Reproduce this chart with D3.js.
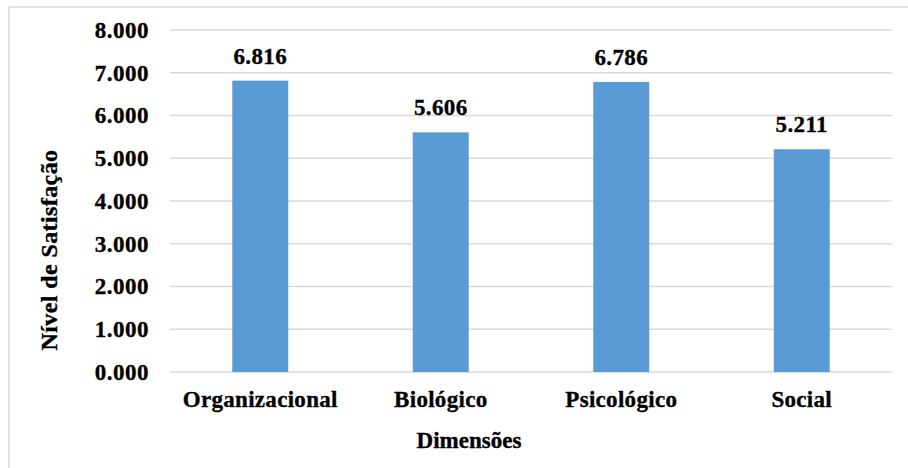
<!DOCTYPE html>
<html>
<head>
<meta charset="utf-8">
<script src="https://cdn.jsdelivr.net/npm/d3@7"></script>
<style>
  html, body { margin: 0; padding: 0; background: #ffffff; }
  svg { display: block; }
  text { font-family: "Liberation Serif", "Times New Roman", serif; font-weight: bold; fill: #000; stroke: #000; stroke-width: 0.35px; }
</style>
</head>
<body>
<svg id="chart" width="908" height="468"></svg>
<script>
// Satisfaction level per dimension
const categories = ["Organizacional", "Biológico", "Psicológico", "Social"];
const values = [6.816, 5.606, 6.786, 5.211];
const yTicks = [0, 1, 2, 3, 4, 5, 6, 7, 8];
const yTitle = "Nível de Satisfação";
const xTitle = "Dimensões";

const svg = d3.select("#chart");
const W = 908, H = 468;
const plot = { left: 170, right: 892, top: 30, bottom: 372 };

// Outer frame (runs past the right and bottom edges)
svg.append("rect")
  .attr("x", 9).attr("y", 7)
  .attr("width", W + 20).attr("height", H + 20)
  .attr("fill", "#fff")
  .attr("stroke", "#d9d9d9")
  .attr("stroke-width", 1.5);

const x = d3.scaleBand()
  .domain(categories)
  .range([plot.left, plot.right])
  .paddingInner(0.69)
  .paddingOuter(0.345);

const y = d3.scaleLinear()
  .domain([0, 8])
  .range([plot.bottom, plot.top]);

const fmt = d3.format(".3f");

// Gridlines
svg.append("g")
  .selectAll("line")
  .data(yTicks)
  .join("line")
  .attr("x1", plot.left).attr("x2", plot.right)
  .attr("y1", d => y(d)).attr("y2", d => y(d))
  .attr("stroke", "#d9d9d9")
  .attr("stroke-width", 1.5);

// Y axis labels
const yAxis = d3.axisLeft(y).tickValues(yTicks).tickFormat(fmt).tickSize(0).tickPadding(0);
const gy = svg.append("g")
  .attr("transform", `translate(${plot.left - 21},0)`)
  .call(yAxis);
gy.select(".domain").remove();
gy.selectAll("text")
  .attr("font-size", 23)
  .attr("letter-spacing", 0.5)
  .attr("font-family", null)
  .attr("fill", "#000");

// Bars
svg.append("g")
  .selectAll("rect")
  .data(categories)
  .join("rect")
  .attr("x", d => x(d))
  .attr("width", x.bandwidth())
  .attr("y", (d, i) => y(values[i]))
  .attr("height", (d, i) => y(0) - y(values[i]))
  .attr("fill", "#5b9bd5");

// Value labels
svg.append("g")
  .selectAll("text")
  .data(categories)
  .join("text")
  .attr("x", d => x(d) + x.bandwidth() / 2)
  .attr("y", (d, i) => y(values[i]) - 17)
  .attr("text-anchor", "middle")
  .attr("font-size", 23)
  .attr("letter-spacing", 0.4)
  .text((d, i) => fmt(values[i]));

// X axis labels
const xAxis = d3.axisBottom(x).tickSize(0).tickPadding(0);
const gx = svg.append("g")
  .attr("transform", `translate(0,${plot.bottom + 19})`)
  .call(xAxis);
gx.select(".domain").remove();
gx.selectAll("text")
  .attr("font-size", 23)
  .attr("letter-spacing", 0.3)
  .attr("font-family", null)
  .attr("fill", "#000");

// Axis titles
svg.append("text")
  .attr("x", 469).attr("y", 448)
  .attr("text-anchor", "middle")
  .attr("font-size", 23)
  .text(xTitle);

svg.append("text")
  .attr("transform", "translate(57,250) rotate(-90)")
  .attr("text-anchor", "middle")
  .attr("font-size", 24)
  .attr("letter-spacing", 0.4)
  .text(yTitle);
</script>
</body>
</html>
